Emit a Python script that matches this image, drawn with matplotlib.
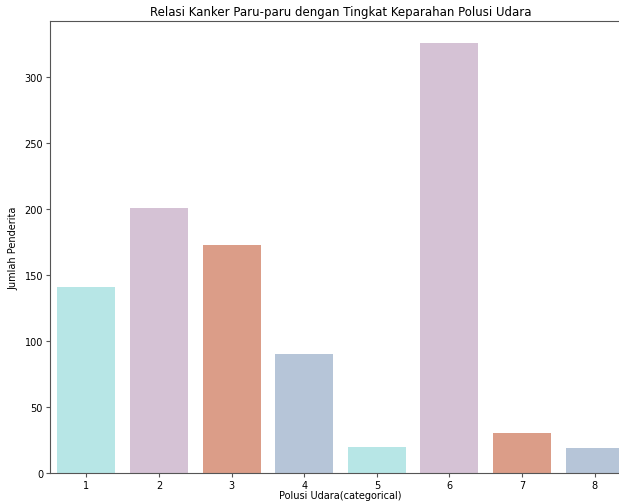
import matplotlib
matplotlib.use('Agg')
import matplotlib.pyplot as plt
import seaborn as sns

# Jumlah penderita per tingkat polusi udara
categories = ['1', '2', '3', '4', '5', '6', '7', '8']
counts = [141, 201, 173, 90, 20, 326, 30, 19]
palette = ['paleturquoise', 'thistle', 'darksalmon', 'lightsteelblue']

colors = [sns.desaturate(palette[i % len(palette)], 0.75) for i in range(len(categories))]

fig = plt.figure(figsize=(6.19, 5.02), dpi=100)
# axes runs a bit past the right edge, like the cropped original
ax = fig.add_axes([50 / 619, 28 / 502, 581 / 619, 452 / 502])

x = range(len(categories))
ax.bar(x, counts, width=0.8, color=colors)
ax.set_xlim(-0.5, len(categories) - 0.5)
ax.set_ylim(0, max(counts) * 1.05)
ax.set_xticks(list(x))
ax.set_xticklabels(categories)

ax.set_title('Relasi Kanker Paru-paru dengan Tingkat Keparahan Polusi Udara', fontsize=8.5, pad=4)
ax.set_xlabel('Polusi Udara(categorical)', fontsize=7, labelpad=0)
ax.set_ylabel('Jumlah Penderita', fontsize=7)
ax.tick_params(labelsize=7, length=3, pad=2, color='#555555')
for s in ax.spines.values():
    s.set_color('#555555')
ax.spines['right'].set_visible(False)

plt.savefig('out.png', dpi=100)
